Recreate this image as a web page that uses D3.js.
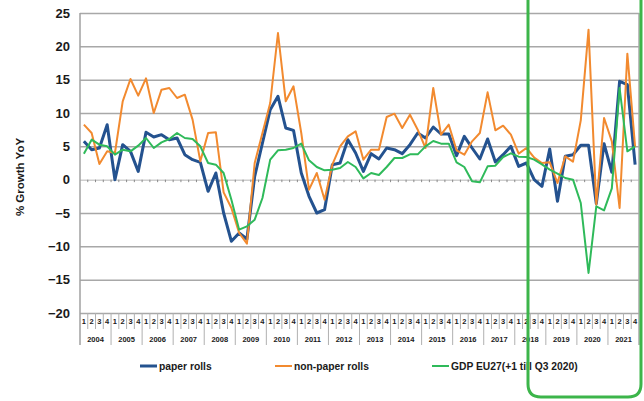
<!DOCTYPE html>
<html>
<head>
<meta charset="utf-8">
<script src="https://cdn.jsdelivr.net/npm/d3@7"></script>
<style>
  html, body { margin: 0; padding: 0; background: #ffffff; }
  svg { display: block; }
  text { font-family: "Liberation Sans", Arial, sans-serif; font-weight: bold; fill: #1a1a1a; }
</style>
</head>
<body>
<svg id="chart" width="644" height="401"></svg>
<script>
// ---------- DATA ----------
const years = ["2004","2005","2006","2007","2008","2009","2010","2011","2012","2013","2014","2015","2016","2017","2018","2019","2020","2021"];
const quarterLabels = ["1","2","3","4"];
const yTicks = [-20, -15, -10, -5, 0, 5, 10, 15, 20, 25];
const seriesNames = ["paper rolls", "non-paper rolls", "GDP EU27(+1 till Q3 2020)"];

const paperRolls = [
  5.75, 4.5, 4.75, 8.25, 0, 5.25, 4.25, 1.25, 7.1, 6.4, 6.75, 6.0, 6.25, 3.75, 3.0, 2.6,
  -1.75, 1.0, -5.0, -9.25, -8.0, -8.9, 0.5, 5.5, 10.5, 12.5, 7.75, 7.4, 1.0, -2.5, -5.0, -4.5,
  2.25, 2.5, 6.0, 4.0, 1.25, 3.9, 3.1, 4.75, 4.5, 3.9, 5.25, 7.0, 6.25, 7.9, 6.85, 6.85,
  3.6, 6.5, 4.75, 3.1, 6.1, 2.65, 3.75, 5.0, 2.0, 2.5, 0.0, -1.0, 4.6, -3.25, 3.5, 3.75,
  5.15, 5.15, -3.6, 5.4, 1.1, 14.75, 14.25, 2.25
];
const nonPaperRolls = [
  8.25, 7.0, 2.35, 4.25, 4.0, 11.75, 15.1, 12.6, 15.2, 10.0, 13.5, 13.75, 12.25, 12.75, 9.0, 2.75,
  7.0, 7.1, -1.9, -4.25, -8.0, -9.6, 2.5, 7.0, 11.5, 22.0, 11.75, 14.0, 7.0, -1.5, 1.0, -3.0,
  2.25, 5.0, 6.5, 7.25, 3.0, 4.5, 4.5, 9.4, 9.9, 7.75, 9.75, 7.5, 4.75, 13.75, 6.75, 8.25,
  4.4, 3.75, 5.75, 7.0, 13.1, 7.4, 8.1, 6.75, 3.9, 4.75, 3.3, 2.5, 2.6, -0.5, 3.5, 2.7,
  8.9, 22.5, -3.75, 9.25, 5.75, -4.25, 18.9, 4.9
];
const gdpEU27 = [
  3.9, 6.0, 5.25, 5.0, 3.75, 4.5, 4.25, 5.1, 6.25, 4.75, 5.6, 6.1, 7.0, 6.25, 6.1, 5.0,
  2.5, 2.25, 1.0, -3.0, -7.5, -7.0, -6.0, -2.75, 3.0, 4.4, 4.5, 4.75, 5.4, 2.9, 1.9, 1.4,
  1.5, 1.75, 2.65, 1.9, 0.2, 1.0, 0.7, 1.9, 3.25, 3.25, 3.8, 3.8, 5.0, 5.8, 5.4, 5.4,
  2.6, 1.9, -0.25, -0.4, 2.0, 2.1, 3.4, 3.95, 3.45, 3.4, 3.0, 2.3, 1.5, 0.9, 0.25, 0.0,
  -3.5, -14.0, -4.0, -4.6, -1.3, 13.75, 4.25, 5.0
];

// ---------- BUILD ----------
const quarters = [];
years.forEach(yr => quarterLabels.forEach(q => quarters.push(yr + "Q" + q)));

const colors = ["#24528f", "#f28a2f", "#2fba5a"];
const widths = [3, 2, 2];
const seriesData = [paperRolls, nonPaperRolls, gdpEU27];

const svg = d3.select("#chart");
const pLeft = 80, pRight = 639, pTop = 13, pBottom = 313;

const x = d3.scaleBand().domain(quarters).range([pLeft, pRight]).padding(0);
const y = d3.scaleLinear().domain([-20, 25]).range([pBottom, pTop]);

// Gridlines + y labels
const yAxis = d3.axisLeft(y).tickValues(yTicks).tickSize(-(pRight - pLeft)).tickPadding(10);
const gy = svg.append("g").attr("transform", `translate(${pLeft},0)`).call(yAxis);
gy.select(".domain").remove();
gy.selectAll(".tick line")
  .attr("stroke", d => d === 0 ? "#b5b5b5" : "#a8a8a8")
  .attr("stroke-width", d => d === 0 ? 1 : 1.5);
gy.selectAll(".tick text").style("font-size", "13px").attr("fill", "#1a1a1a");

// tick marks on zero line
svg.append("g").selectAll("line")
  .data(quarters.slice(1))
  .join("line")
  .attr("x1", d => x(d)).attr("x2", d => x(d))
  .attr("y1", y(0)).attr("y2", y(0) + 2.5)
  .attr("stroke", "#8a8a8a").attr("stroke-width", 1);

// left axis line and right border
svg.append("line").attr("x1", pLeft).attr("x2", pLeft).attr("y1", pTop).attr("y2", 345)
  .attr("stroke", "#a0a0a0").attr("stroke-width", 1.5);
svg.append("line").attr("x1", pRight).attr("x2", pRight).attr("y1", pTop).attr("y2", 345)
  .attr("stroke", "#a8a8a8").attr("stroke-width", 1.5);

// Quarter labels via band axis
const xAxis = d3.axisBottom(x).tickSize(0).tickPadding(6).tickFormat(d => d.slice(5));
const gx = svg.append("g").attr("transform", `translate(0,${pBottom})`).call(xAxis);
gx.select(".domain").remove();
gx.selectAll(".tick text").style("font-size", "7.5px").attr("fill", "#222");

// quarter separators
svg.append("g").selectAll("line")
  .data(quarters.filter((d, i) => i > 0 && i % 4 !== 0))
  .join("line")
  .attr("x1", d => x(d)).attr("x2", d => x(d))
  .attr("y1", pBottom).attr("y2", pBottom + 16)
  .attr("stroke", "#b0b0b0").attr("stroke-width", 1);
// year separators
svg.append("g").selectAll("line")
  .data(years.slice(1))
  .join("line")
  .attr("x1", d => x(d + "Q1")).attr("x2", d => x(d + "Q1"))
  .attr("y1", pBottom).attr("y2", pBottom + 32)
  .attr("stroke", "#b0b0b0").attr("stroke-width", 1);
// year labels
svg.append("g").selectAll("text")
  .data(years)
  .join("text")
  .attr("x", d => x(d + "Q1") + x.bandwidth() * 2)
  .attr("y", 342)
  .attr("text-anchor", "middle")
  .style("font-size", "7.5px")
  .text(d => d);

// Lines
const line = d3.line().x((d, i) => x(quarters[i]) + x.bandwidth() / 2).y(d => y(d));
seriesData.forEach((s, k) => {
  svg.append("path").datum(s)
    .attr("d", line)
    .attr("fill", "none")
    .attr("stroke", colors[k])
    .attr("stroke-width", widths[k])
    .attr("stroke-linejoin", "round");
});

// Y axis title
svg.append("text")
  .attr("transform", "translate(24,177) rotate(-90)")
  .attr("text-anchor", "middle")
  .style("font-size", "11.5px")
  .text("% Growth YoY");

// Legend
const legendX = [140, 275, 432];
const lg = svg.append("g").selectAll("g").data(seriesNames).join("g")
  .attr("transform", (d, i) => `translate(${legendX[i]},366)`);
lg.append("line").attr("x1", 0).attr("x2", 17).attr("y1", 0).attr("y2", 0)
  .attr("stroke", (d, i) => colors[i]).attr("stroke-width", (d, i) => widths[i]);
lg.append("text").attr("x", 19).attr("y", 3.8).style("font-size", "10.3px").text(d => d);

// Highlight box overlay
svg.append("path")
  .attr("d", "M528,-5 L528,384 Q528,397 541,397 L628,397 Q641,397 641,384 L641,-5")
  .attr("fill", "none")
  .attr("stroke", "#3cb54a")
  .attr("stroke-width", 3);
</script>
</body>
</html>
